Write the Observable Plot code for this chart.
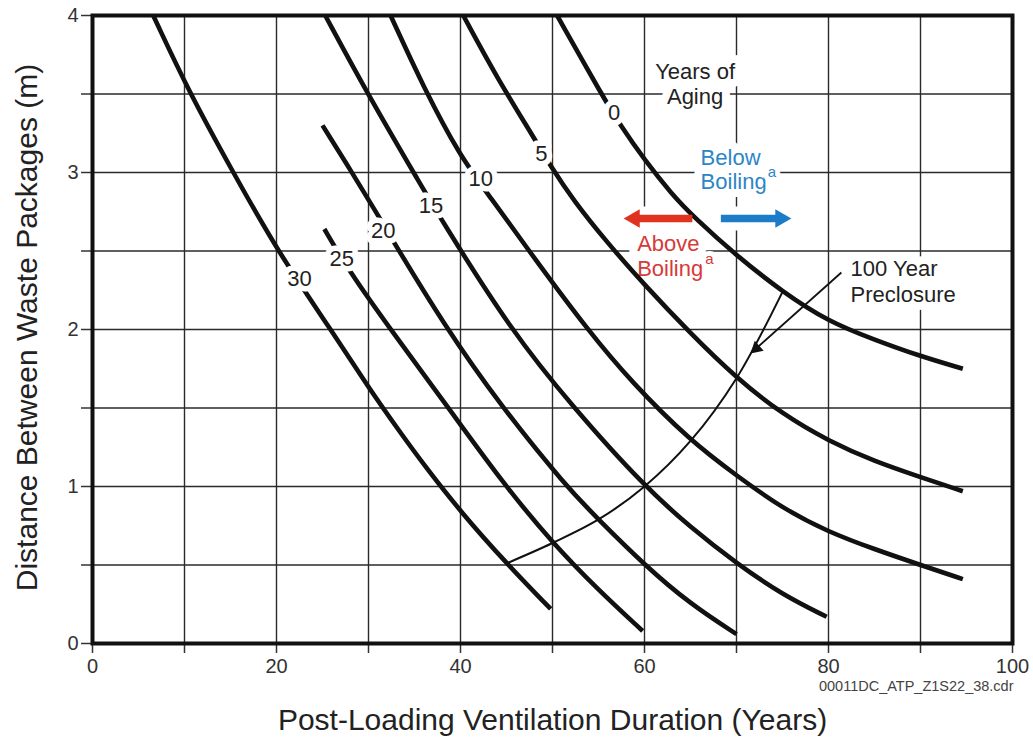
<!DOCTYPE html>
<html>
<head>
<meta charset="utf-8">
<script src="https://cdn.jsdelivr.net/npm/d3@7"></script>
<script src="https://cdn.jsdelivr.net/npm/@observablehq/plot@0.6"></script>
<style>
  html, body { margin: 0; padding: 0; background: #fff; }
  #chart { width: 1033px; height: 737px; }
</style>
</head>
<body>
<div id="chart"></div>
<script>
// ---- data ----
const agingYears = [0, 5, 10, 15, 20, 25, 30];

const curve0  = [[50.5,4.0],[55.5,3.48],[57.4,3.30],[60,3.08],[63,2.86],[65.3,2.72],[70,2.47],[75,2.24],[80,2.05],[85,1.935],[89.7,1.835],[94.6,1.75]];
const curve5  = [[40.3,4.0],[44,3.6],[48,3.22],[49.8,3.04],[52.3,2.82],[56,2.55],[59.9,2.29],[65,1.975],[70,1.69],[75,1.46],[80,1.29],[85,1.16],[90,1.06],[94.6,0.97]];
const curve10 = [[32.4,4.0],[36,3.54],[40,3.10],[42.9,2.87],[48.7,2.4],[53.8,2.0],[58.5,1.67],[65,1.29],[70,1.07],[75,0.86],[80,0.71],[85,0.6],[90,0.5],[94.6,0.41]];
const curve15 = [[25.3,4.0],[29.9,3.5],[36,2.89],[37.6,2.73],[45.4,2.0],[52.3,1.5],[60,1.0],[65,0.74],[70,0.51],[75,0.31],[79.8,0.17]];
const curve20 = [[25,3.3],[28,3.02],[30.8,2.75],[32.4,2.59],[38.2,2.03],[44.3,1.52],[51.5,1.0],[55,0.79],[60,0.5],[65,0.25],[70,0.06]];
const curve25 = [[25.2,2.64],[27.8,2.38],[32.4,2.0],[38.7,1.5],[44.5,1.03],[50,0.64],[55,0.34],[59.8,0.08]];
const curve30 = [[6.6,4.0],[10.6,3.5],[15.3,3.0],[20.1,2.5],[25.9,2.0],[30,1.63],[33.5,1.34],[36,1.14],[40,0.84],[45,0.51],[49.8,0.22]];
const curves = [curve0, curve5, curve10, curve15, curve20, curve25, curve30];

// curve label positions (x, y)
const labelX = [56.7, 48.8, 42.2, 36.8, 31.6, 27.1, 22.5];
const labelY = [3.38, 3.12, 2.96, 2.79, 2.63, 2.45, 2.32];

// 100-year preclosure line
const preX = [45, 50, 55, 60, 65, 70, 75];
const preY = [0.51, 0.64, 0.79, 1.0, 1.29, 1.69, 2.24];

// ticks
const xTicks = [0, 10, 20, 30, 40, 50, 60, 70, 80, 90, 100];
const xTickLabels = ["0", "", "20", "", "40", "", "60", "", "80", "", "100"];
const yTicks = [0, 0.5, 1, 1.5, 2, 2.5, 3, 3.5, 4];
const yTickLabels = ["0", "", "1", "", "2", "", "3", "", "4"];

// texts
const xTitle = "Post-Loading Ventilation Duration (Years)";
const yTitle = "Distance Between Waste Packages (m)";
const caption = "00011DC_ATP_Z1S22_38.cdr";

// ---- build tables ----
const rows = curves.flatMap((c, i) => c.map(([x, y]) => ({aging: agingYears[i], x, y})));
const labels = agingYears.map((a, i) => ({text: String(a), x: labelX[i], y: labelY[i]}));
const pre = preX.map((x, i) => ({x, y: preY[i]}));

const RED = "#e0321f", RED_TXT = "#d63a3a";
const BLUE = "#1c7cc8", BLUE_TXT = "#2b86c6";

const notesCentered = [
  {text: "Years of\nAging", x: 65.5, y: 3.57, fill: "#222"}
];
const notesLeft = [
  {text: "Below", x: 66.1, y: 3.10, fill: BLUE_TXT},
  {text: "Boiling", x: 66.1, y: 2.945, fill: BLUE_TXT},
  {text: "Above", x: 59.2, y: 2.55, fill: RED_TXT},
  {text: "Boiling", x: 59.2, y: 2.395, fill: RED_TXT},
  {text: "100 Year\nPreclosure", x: 82.4, y: 2.309, fill: "#222"}
];
const sups = [
  {text: "a", x: 73.4, y: 3.00, fill: BLUE_TXT},
  {text: "a", x: 66.6, y: 2.45, fill: RED_TXT}
];

const shafts = [
  {x1: 65.2, x2: 59.3, y: 2.707, c: RED},
  {x1: 68.3, x2: 74.3, y: 2.707, c: BLUE}
];
const heads = [
  {x: 58.9, y: 2.707, c: RED, rot: -90},
  {x: 74.8, y: 2.707, c: BLUE, rot: 90}
];
const halos = [{x1: 57.0, x2: 76.6, y: 2.707}];
const pointer = [{x1: 81.4, y1: 2.363, x2: 72.15, y2: 1.88}];
const pointerHead = [{x: 72.15, y: 1.88, rot: 228.6}];

const FONT = "'Liberation Sans', Arial, Helvetica, sans-serif";
const haloText = {stroke: "white", paintOrder: "stroke", strokeLinejoin: "round"};

const chart = Plot.plot({
  width: 1033,
  height: 737,
  marginLeft: 92,
  marginRight: 21,
  marginTop: 15,
  marginBottom: 94,
  style: {fontFamily: FONT, background: "#fff", color: "#222", overflow: "visible"},
  x: {domain: [0, 100]},
  y: {domain: [0, 4]},
  marks: [
    Plot.gridX({ticks: xTicks, stroke: "#2a2a2a", strokeOpacity: 1, strokeWidth: 1.4}),
    Plot.gridY({ticks: yTicks, stroke: "#2a2a2a", strokeOpacity: 1, strokeWidth: 1.4}),

    // white gaps behind annotations
    Plot.link(halos, {x1: "x1", x2: "x2", y1: "y", y2: "y", stroke: "white", strokeWidth: 24}),
    Plot.text(notesCentered, {x: "x", y: "y", text: "text", fill: "fill", textAnchor: "middle", fontSize: 22,
      lineHeight: 1.14, strokeWidth: 16, ...haloText}),
    Plot.text(notesLeft, {x: "x", y: "y", text: "text", fill: "fill", textAnchor: "start", fontSize: 22,
      lineHeight: 1.14, strokeWidth: 16, ...haloText}),
    Plot.text(sups, {x: "x", y: "y", text: "text", fill: "fill", textAnchor: "start", fontSize: 15,
      strokeWidth: 10, ...haloText}),

    // aging curves
    Plot.line(rows, {x: "x", y: "y", z: "aging", curve: "basis", stroke: "#111", strokeWidth: 4.6,
      strokeLinecap: "butt"}),
    // 100-year preclosure line
    Plot.line(pre, {x: "x", y: "y", curve: "catmull-rom", stroke: "#111", strokeWidth: 2}),

    // curve labels
    Plot.text(labels, {x: "x", y: "y", text: "text", fontSize: 22, fill: "#222", strokeWidth: 11, ...haloText}),

    // boiling arrows
    Plot.link(shafts, {x1: "x1", x2: "x2", y1: "y", y2: "y", stroke: "c", strokeWidth: 7.5}),
    Plot.dot(heads, {x: "x", y: "y", fill: "c", symbol: "triangle", r: 6.9, rotate: "rot", stroke: null}),

    // pointer to preclosure line
    Plot.link(pointer, {x1: "x1", y1: "y1", x2: "x2", y2: "y2", stroke: "#111", strokeWidth: 1.8}),
    Plot.dot(pointerHead, {x: "x", y: "y", fill: "#111", symbol: "triangle", r: 5, rotate: "rot", stroke: null}),

    // axes
    Plot.axisX({ticks: xTicks, tickFormat: (d, i) => xTickLabels[i], tickSize: 10, tickPadding: 5,
      fontSize: 20, color: "#333", strokeWidth: 1.5, label: null}),
    Plot.axisY({ticks: yTicks, tickFormat: (d, i) => yTickLabels[i], tickSize: 11, tickPadding: 3,
      fontSize: 20, color: "#333", strokeWidth: 1.5, label: null}),
    Plot.frame({stroke: "#111", strokeWidth: 4}),

    // titles
    Plot.text([xTitle], {frameAnchor: "bottom", textAnchor: "middle", dy: 77, fontSize: 30, fill: "#222", lineAnchor: "middle"}),
    Plot.text([yTitle], {frameAnchor: "left", textAnchor: "middle", dx: -65, dy: -2, rotate: -90, fontSize: 30, fill: "#222", lineAnchor: "middle"}),
    Plot.text([caption], {frameAnchor: "bottom-right", textAnchor: "end", dx: 1, dy: 47, fontSize: 14.5, fill: "#444"})
  ]
});

document.getElementById("chart").appendChild(chart);
</script>
</body>
</html>
